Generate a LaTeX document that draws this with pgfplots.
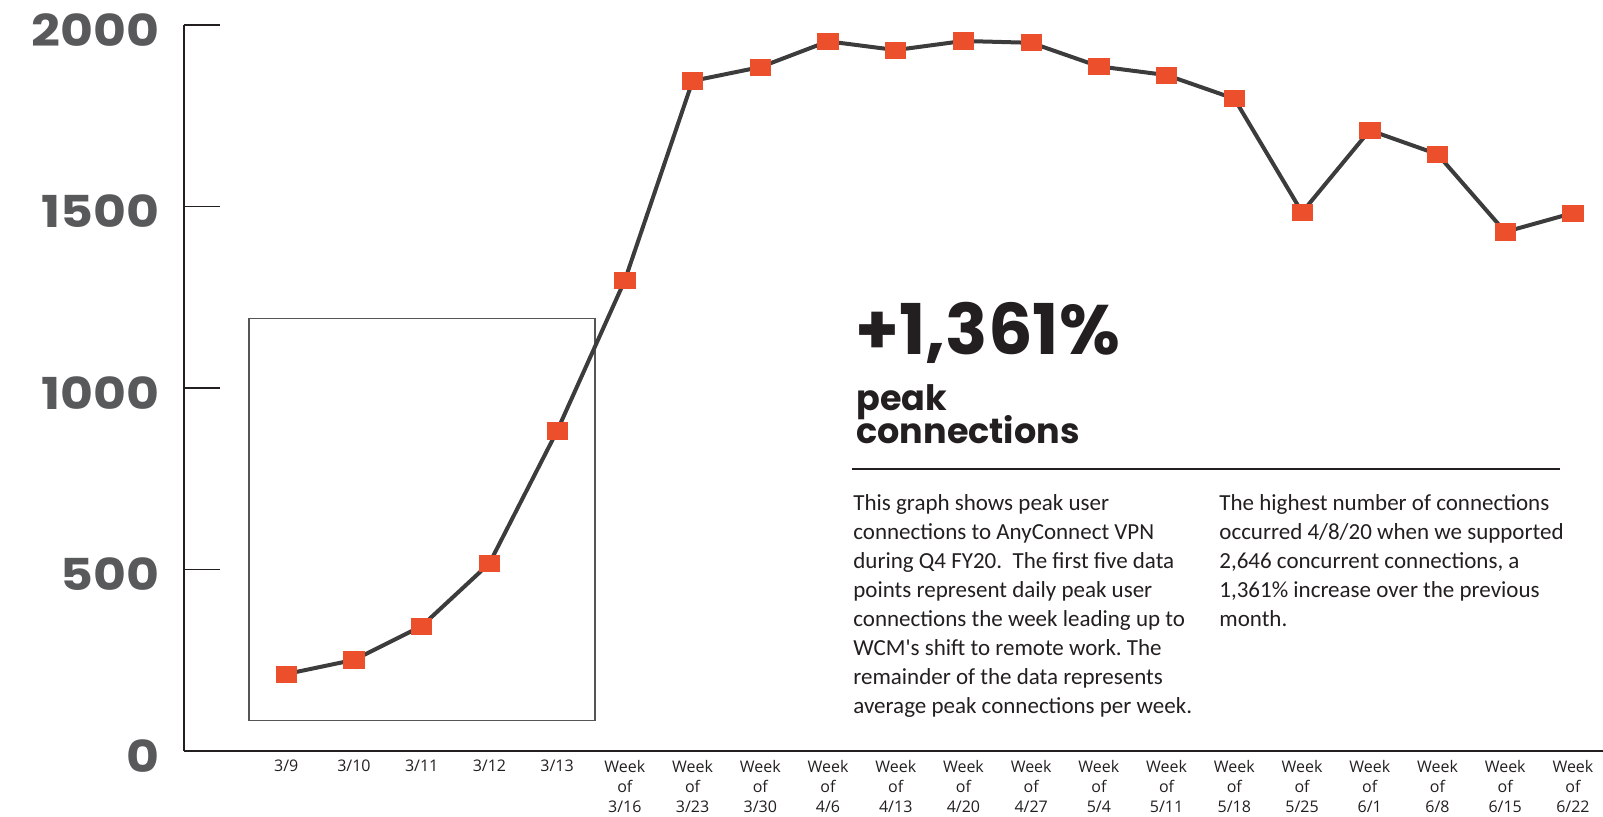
\documentclass[border=0pt]{standalone}
\usepackage{fontspec}
\usepackage{pgfplots}
\usepackage{pgfplotstable}
\pgfplotsset{compat=1.18}
\setmainfont{Carlito}
\newfontfamily\tickfont[FakeStretch=1.15]{Poppins}
\newfontfamily\headfont{Poppins}
\newfontfamily\labelfont{Open Sans}
\definecolor{linegray}{HTML}{3C3C3C}
\definecolor{markred}{HTML}{EC4F2B}
\definecolor{tickgray}{HTML}{58595B}
\definecolor{inkblack}{HTML}{231F20}
\definecolor{boxgray}{HTML}{555555}
\frenchspacing

% peak AnyConnect VPN connections
\pgfplotstableread{
idx value
0 212
1 251
2 344
3 517
4 882
5 1297
6 1846
7 1884
8 1955
9 1931
10 1956
11 1951
12 1886
13 1862
14 1797
15 1484
16 1710
17 1644
18 1430
19 1482
}\vpndata

\begin{document}
\begin{tikzpicture}
\useasboundingbox (-92pt,-32.5pt) rectangle (709.5pt,375.5pt);
\begin{axis}[
  at={(0,0)}, anchor=south west,
  scale only axis, width=709.5pt, height=363pt,
  xmin=-1.51, xmax=19.444, ymin=0, ymax=2000,
  axis x line*=bottom, axis y line*=left,
  axis line style={inkblack, line width=0.7pt},
  tick align=inside,
  major tick length=18pt,
  ytick={0,500,1000,1500,2000},
  yticklabels={0,500,1000,1500,2000},
  ytick style={inkblack, line width=0.6pt},
  yticklabel style={font=\tickfont\bfseries\fontsize{22}{22}\selectfont,
    text=tickgray, anchor=base east, inner sep=0pt, xshift=-12pt, yshift=-10.5pt},
  xtick={0,...,19},
  xtick style={draw=none},
  xticklabels={3/9,3/10,3/11,3/12,3/13,
    {Week\\of\\3/16},{Week\\of\\3/23},{Week\\of\\3/30},{Week\\of\\4/6},
    {Week\\of\\4/13},{Week\\of\\4/20},{Week\\of\\4/27},{Week\\of\\5/4},
    {Week\\of\\5/11},{Week\\of\\5/18},{Week\\of\\5/25},{Week\\of\\6/1},
    {Week\\of\\6/8},{Week\\of\\6/15},{Week\\of\\6/22}},
  xticklabel style={font=\labelfont\fontsize{8}{10.15}\selectfont,
    align=center, anchor=north, inner sep=0pt, yshift=-4.3pt, text=inkblack},
  clip=false,
]
\draw[boxgray, line width=0.7pt] (axis cs:-0.55,83.5) rectangle (axis cs:4.56,1191);
\addplot[linegray, line width=2pt, mark=square*, mark size=4.05pt,
  mark options={solid, fill=markred, draw=markred, line width=0.4pt, xscale=1.25}]
  table[x=idx, y=value] {\vpndata};
\end{axis}

% annotation
\node[anchor=base west, inner sep=0pt, text=inkblack,
  font=\headfont\bfseries\fontsize{35}{35}\selectfont] at (335.5pt,198.5pt) {+1,361\%};
\node[anchor=base west, inner sep=0pt, text=inkblack,
  font=\headfont\bfseries\fontsize{17.5}{17.5}\selectfont] at (336pt,170.2pt) {peak};
\node[anchor=base west, inner sep=0pt, text=inkblack,
  font=\headfont\bfseries\fontsize{17.5}{17.5}\selectfont] at (336pt,154pt) {connections};
\draw[inkblack, line width=1.3pt] (334pt,141pt) -- (688pt,141pt);

\foreach \txt [count=\i from 0] in {
  {This graph shows peak user},
  {connections to AnyConnect VPN},
  {during Q4 FY20.\ \ The first five data},
  {points represent daily peak user},
  {connections the week leading up to},
  {WCM\textquotesingle s shift to remote work. The},
  {remainder of the data represents},
  {average peak connections per week.}}
  \node[anchor=base west, inner sep=0pt, text=inkblack,
    font=\fontsize{11.5}{14.5}\selectfont] at (334.5pt,120.5pt-\i*14.5pt) {\txt};

\foreach \txt [count=\i from 0] in {
  {The highest number of connections},
  {occurred 4/8/20 when we supported},
  {2,646 concurrent connections, a},
  {1,361\% increase over the previous},
  {month.}}
  \node[anchor=base west, inner sep=0pt, text=inkblack,
    font=\fontsize{11.5}{14.5}\selectfont] at (517.5pt,120.5pt-\i*14.5pt) {\txt};
\end{tikzpicture}
\end{document}
